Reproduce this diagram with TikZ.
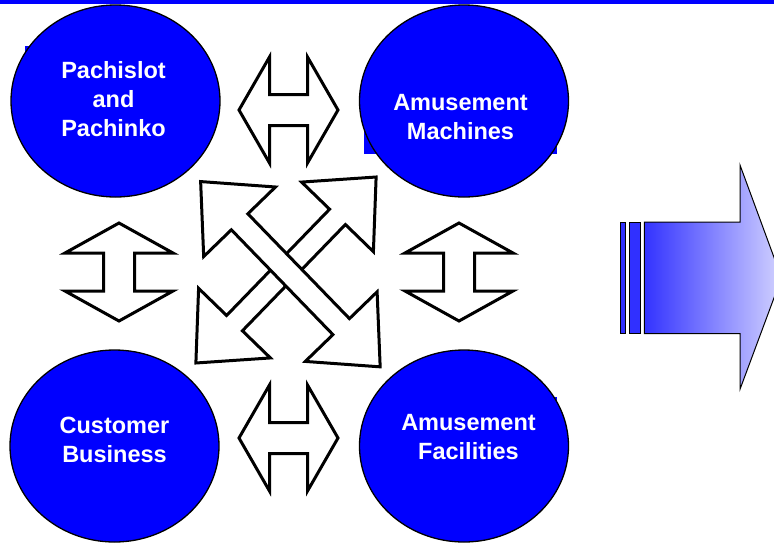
\documentclass[tikz,border=0pt]{standalone}
\usepackage{fontspec}
\setmainfont{Liberation Sans}
\usetikzlibrary{shapes.geometric}

\definecolor{bubbleblue}{RGB}{0,0,255}
\definecolor{barblue}{RGB}{48,48,255}
\definecolor{shadedark}{RGB}{51,51,255}
\definecolor{shadelight}{RGB}{210,210,255}

\tikzset{
	bubble/.style={ellipse, draw=black, line width=1.3pt, fill=bubbleblue,
		minimum width=209pt, minimum height=192pt, inner sep=0pt},
	bubbletext/.style={text=white, align=center, inner sep=0pt,
		font=\fontsize{23.5}{29}\selectfont\bfseries},
	pics/dblarrow/.style args={#1/#2/#3/#4}{code={
		\draw[line width=3pt, fill=white] (-#1,0) -- (-#2,-#3) -- (-#2,-#4) -- (#2,-#4)
			-- (#2,-#3) -- (#1,0) -- (#2,#3) -- (#2,#4) -- (-#2,#4) -- (-#2,#3) -- cycle;
	}}
}

\begin{document}
\begin{tikzpicture}[x=1pt,y=-1pt]
	
	\useasboundingbox (0,0) rectangle (774,542);
	\clip (0,0) rectangle (774,542);
	\fill[bubbleblue] (0,0) rectangle (774,4);
	
	% text boxes behind the bubbles
	\fill[bubbleblue] (25,46) rectangle (202,150);
	\fill[bubbleblue] (364,82) rectangle (557,154);
	\fill[bubbleblue] (400,397) rectangle (557,470);
	
	\node[bubble] (pachinko) at (115.5,101) {};
	\node[bubble] (machines) at (464,101) {};
	\node[bubble] (customer) at (114.5,446) {};
	\node[bubble] (facilities) at (464,446) {};
	
	\node[bubbletext] (pachinkotext) at ([shift={(-2,-1.5)}]pachinko.center) {Pachislot\\and\\Pachinko};
	\node[bubbletext] (machinestext) at ([shift={(-3.5,16)}]machines.center) {Amusement\\Machines};
	\node[bubbletext] (customertext) at ([shift={(0,-6)}]customer.center) {Customer\\Business};
	\node[bubbletext] (facilitiestext) at ([shift={(4.5,-9)}]facilities.center) {Amusement\\Facilities};
	
	% double arrows between the bubbles
	\pic at (288.5,110) {dblarrow=49.5/19/53/15.5};
	\pic at (288.5,438) {dblarrow=49.5/19/53/15.5};
	\pic[rotate=90] at (119,272) {dblarrow=49/19/54/15.5};
	\pic[rotate=90] at (459,272) {dblarrow=49/19/54/15.5};
	\pic[rotate=45.9] at (286,270) {dblarrow=129.5/74/50/11};
	\pic[rotate=-45.9] at (290.4,274.2) {dblarrow=129/73/50/11.5};
	
	% big arrow on the right
	\filldraw[fill=barblue, line width=1pt] (620,222) rectangle (625.7,333.7);
	\filldraw[fill=barblue, line width=1pt] (629.3,222) rectangle (640.7,333.7);
	\draw[line width=1pt, left color=shadedark, right color=shadelight]
		(644.3,222) -- (740,222) -- (740,165) -- (781.5,277.7) -- (740,389.3)
		-- (740,333.7) -- (644.3,333.7) -- cycle;
\end{tikzpicture}
\end{document}
